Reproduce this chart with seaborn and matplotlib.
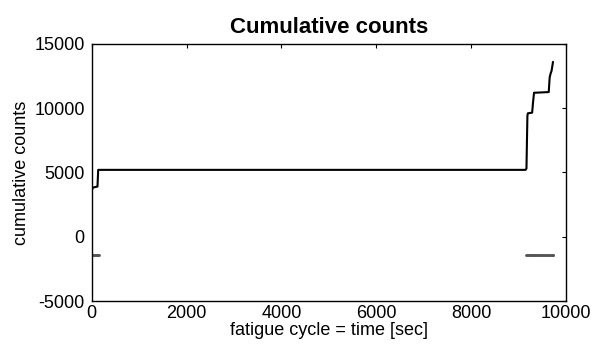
import pandas as pd
import matplotlib
matplotlib.use("Agg")
import matplotlib.pyplot as plt
import seaborn as sns

# -----------------------------
# DATA
# -----------------------------
time_sec = [0, 0, 20, 50, 120, 135, 9150, 9170, 9190, 9200, 9290,
            9310, 9330, 9360, 9640, 9660, 9680, 9700, 9730]
cum_counts = [-1500, 3600, 3800, 3850, 3900, 5200, 5200, 5300, 9400,
              9600, 9650, 10500, 11200, 11200, 11250, 12400, 12700,
              12900, 13600]

marker_time = [0, 20, 40, 60, 80, 100, 120, 140, 160,
               9160, 9180, 9200, 9220, 9240, 9260, 9280, 9300, 9320,
               9340, 9360, 9380, 9400, 9420, 9440, 9460, 9480, 9500,
               9520, 9540, 9560, 9580, 9600, 9620, 9640, 9660, 9680,
               9700, 9720, 9740]
marker_level = [-1400] * len(marker_time)

x_ticks = [0, 2000, 4000, 6000, 8000, 10000]
y_ticks = [-5000, 0, 5000, 10000, 15000]

df = pd.DataFrame({"t": time_sec, "c": cum_counts})
dm = pd.DataFrame({"t": marker_time, "c": marker_level})

# -----------------------------
# PLOT
# -----------------------------
sns.set_style("white")
plt.rcParams["font.family"] = ["Liberation Sans", "DejaVu Sans"]
plt.rcParams["axes.unicode_minus"] = False
plt.rcParams["text.color"] = "black"
plt.rcParams["axes.labelcolor"] = "black"
plt.rcParams["xtick.color"] = "black"
plt.rcParams["ytick.color"] = "black"

fig = plt.figure(figsize=(6, 3.48), dpi=100)
ax = fig.add_axes([0.153, 0.135, 0.79, 0.739])

sns.lineplot(data=df, x="t", y="c", estimator=None, sort=False,
             color="black", linewidth=1.5, ax=ax)
sns.scatterplot(data=dm, x="t", y="c", color="#555555", marker="o",
                s=4, linewidth=0, ax=ax)

ax.set_xlim(0, 10000)
ax.set_ylim(-5000, 15000)
ax.set_xticks(x_ticks)
ax.set_yticks(y_ticks)
ax.tick_params(direction="in", top=True, right=True, length=3,
               labelsize=13)
ax.tick_params(axis="y", pad=5)
ax.tick_params(axis="x", pad=3)
for s in ax.spines.values():
    s.set_color("black")
    s.set_linewidth(1.0)

ax.set_title("Cumulative counts", fontsize=16, fontweight="bold", pad=8,
             color="black")
ax.set_xlabel("fatigue cycle = time [sec]", fontsize=13, labelpad=0)
ax.set_ylabel("cumulative counts", fontsize=13, labelpad=3)

plt.savefig("out.png", dpi=100)
